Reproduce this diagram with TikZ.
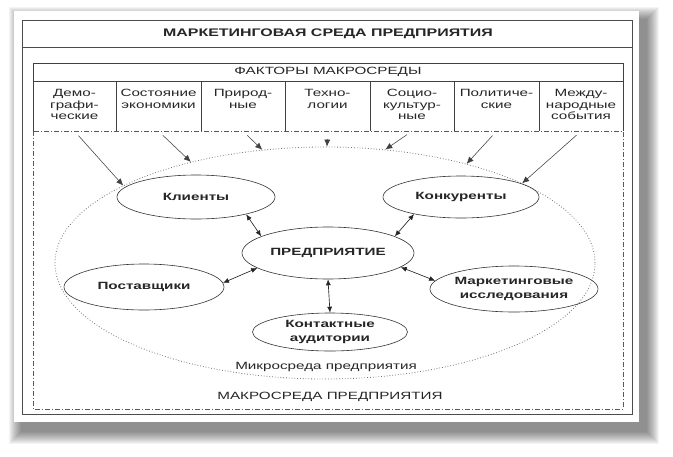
\documentclass[tikz,border=0pt]{standalone}
\usepackage{fontspec}
\setmainfont{Liberation Sans}[FakeStretch=1.45]
\usetikzlibrary{shapes.geometric,arrows.meta}
\begin{document}
\begin{tikzpicture}[x=1pt,y=-1pt,
  every node/.style={text=black!85},
  frameline/.style={draw=black!70, line width=1pt},
  boxline/.style={draw=black!75, line width=0.8pt},
  dashdot/.style={draw=black!65, line width=0.6pt, dash pattern=on 5pt off 2pt on 1pt off 2pt},
  cell/.style={rectangle, minimum height=50pt, inner sep=0},
  celltext/.style={anchor=north, align=center, inner sep=0, font=\fontsize{10.5}{11.6}\selectfont},
  ell/.style={ellipse, draw=black!80, line width=0.6pt, inner sep=0, align=center, font=\fontsize{10.5}{13.5}\selectfont\bfseries},
  biarrow/.style={{Latex[length=6pt,width=5pt]}-{Latex[length=6pt,width=5pt]}, line width=0.65pt, draw=black!85},
  inarrow/.style={-{Latex[length=7pt,width=6pt]}, line width=0.55pt, draw=black!75, shorten <=6pt},
  plain/.style={inner sep=0, font=\fontsize{10.5}{12}\selectfont}]
\useasboundingbox (0,0) rectangle (673,456);
% shadow and card
\foreach \i in {0,...,12}
  \fill[black, opacity=0.045] ({21-\i},{19-\i}) rectangle ({647+\i},{432+\i});
\fill[white] (14,11) rectangle (639,422);
% outer frame
\draw[frameline] (22,20) rectangle (632,414);
\draw[frameline] (22,47) -- (632,47);
\node[plain, font=\fontsize{11}{12}\selectfont\bfseries] (title) at (328,34) {МАРКЕТИНГОВАЯ СРЕДА ПРЕДПРИЯТИЯ};
% macro environment frame
\draw[dashdot] (33,131) rectangle (623,409);
\draw[boxline] (33,131) -- (33,63) -- (623,63) -- (623,131);
\draw[boxline] (33,81) -- (623,81);
\foreach \x in {116,201,285,370,454,539} \draw[boxline] (\x,81) -- (\x,131);
\node[plain] (fhead) at (328,72) {ФАКТОРЫ МАКРОСРЕДЫ};
% factor cells
\node[cell, minimum width=83pt] (c1) at (74.5,106) {};
\node[cell, minimum width=85pt] (c2) at (158.5,106) {};
\node[cell, minimum width=84pt] (c3) at (243,106) {};
\node[cell, minimum width=85pt] (c4) at (327.5,106) {};
\node[cell, minimum width=84pt] (c5) at (412,106) {};
\node[cell, minimum width=85pt] (c6) at (496.5,106) {};
\node[cell, minimum width=84pt] (c7) at (581,106) {};
\node[celltext] (t1) at (74.5,89) {Демо-\\графи-\\ческие};
\node[celltext] (t2) at (158.5,89) {Состояние\\экономики};
\node[celltext] (t3) at (243,89) {Природ-\\ные};
\node[celltext] (t4) at (327.5,89) {Техно-\\логии};
\node[celltext] (t5) at (412,89) {Социо-\\культур-\\ные};
\node[celltext] (t6) at (496.5,89) {Политиче-\\ские};
\node[celltext] (t7) at (581,89) {Между-\\народные\\события};
% microenvironment
\node[ellipse, draw=black!55, dotted, line width=0.8pt, minimum width=540pt, minimum height=232pt, inner sep=0] (mic) at (325,263) {};
\node[plain] (miclabel) at (326,367) {Микросреда предприятия};
\node[plain] (maclabel) at (330,397) {МАКРОСРЕДА ПРЕДПРИЯТИЯ};
% inner ellipses
\node[ell, minimum width=158pt, minimum height=44pt] (cl) at (196,197) {Клиенты};
\node[ell, minimum width=156pt, minimum height=42pt] (ko) at (461,197) {Конкуренты};
\node[ell, minimum width=172pt, minimum height=52pt] (pr) at (328,253) {ПРЕДПРИЯТИЕ};
\node[ell, minimum width=160pt, minimum height=46pt] (po) at (144,287) {Поставщики};
\node[ell, minimum width=154pt, minimum height=46pt] (mi) at (514,289) {Маркетинговые\\исследования};
\node[ell, minimum width=155pt, minimum height=38pt] (ka) at (330,332) {Контактные\\аудитории};
% factor arrows
\draw[inarrow] (c1.south) -- (mic.159);
\draw[inarrow] (c2.south) -- (mic.143);
\draw[inarrow] (c3.south) -- (mic.119);
\draw[inarrow, shorten <=8pt] (c4.south) -- (mic.89);
\draw[inarrow] (c5.south) -- (mic.62);
\draw[inarrow] (c6.south) -- (mic.35);
\draw[inarrow] (c7.south) -- (mic.22);
% links to the enterprise
\draw[biarrow] (cl.-19) -- (pr.166);
\draw[biarrow] (ko.-160) -- (pr.14);
\draw[biarrow] (po.3) -- (pr.192);
\draw[biarrow] (mi.174) -- (pr.-11);
\draw[biarrow] (ka.north) -- (pr.south);
\end{tikzpicture}
\end{document}
